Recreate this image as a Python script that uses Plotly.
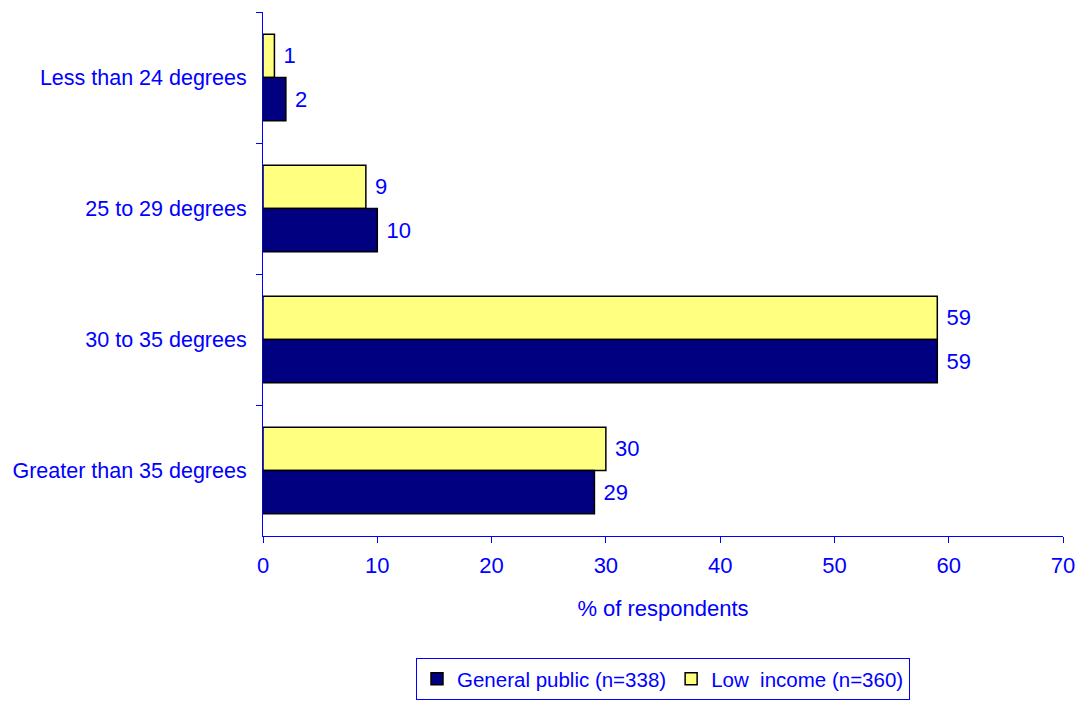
import plotly.graph_objects as go

categories = ["Less than 24 degrees", "25 to 29 degrees", "30 to 35 degrees", "Greater than 35 degrees"]
general_public = [2, 10, 59, 29]
low_income = [1, 9, 59, 30]
x_ticks = [0, 10, 20, 30, 40, 50, 60, 70]

BLUE = "#0000FF"
FONT = "Liberation Sans, Arial, sans-serif"
FS = 22

fig = go.Figure()
fig.add_trace(go.Bar(
    y=categories, x=low_income, orientation="h", name="Low  income (n=360)",
    marker=dict(color="#FFFF80", line=dict(color="#000000", width=1.5)),
    texttemplate=" %{x}", textposition="outside", cliponaxis=False,
    textfont=dict(color=BLUE, size=FS, family=FONT), legendrank=2,
))
fig.add_trace(go.Bar(
    y=categories, x=general_public, orientation="h", name="General public (n=338)",
    marker=dict(color="#000080", line=dict(color="#000000", width=1.5)),
    texttemplate=" %{x}", textposition="outside", cliponaxis=False,
    textfont=dict(color=BLUE, size=FS, family=FONT), legendrank=1,
))

fig.update_layout(
    width=1077, height=693,
    margin=dict(l=255, r=22, t=4, b=165, autoexpand=False),
    paper_bgcolor="white", plot_bgcolor="white",
    barmode="group", bargap=0.34, bargroupgap=0,
    font=dict(family=FONT, size=FS, color=BLUE),
    showlegend=True,
    legend=dict(
        orientation="h", x=0.5, xanchor="center", xref="paper",
        y=0.0015, yanchor="bottom", yref="container",
        bordercolor=BLUE, borderwidth=1, bgcolor="white",
        font=dict(size=20.5, color=BLUE, family=FONT),
        itemwidth=30, tracegroupgap=0,
    ),
    xaxis=dict(
        range=[0, 70], tickvals=x_ticks, showgrid=False, zeroline=False,
        showline=True, linecolor=BLUE, linewidth=1,
        ticks="outside", tickcolor=BLUE, ticklen=6, automargin=False,
        tickfont=dict(size=FS, color=BLUE), ticklabelstandoff=4,
        title=dict(text="% of respondents", font=dict(size=FS, color=BLUE), standoff=23),
    ),
    yaxis=dict(
        autorange="reversed", showgrid=False, zeroline=False,
        showline=True, linecolor=BLUE, linewidth=1, automargin=False,
        ticks="outside", tickson="boundaries", tickcolor=BLUE, ticklen=6,
        tickfont=dict(size=21.5, color=BLUE), ticklabelstandoff=11,
    ),
)

fig.write_html("out.html")
